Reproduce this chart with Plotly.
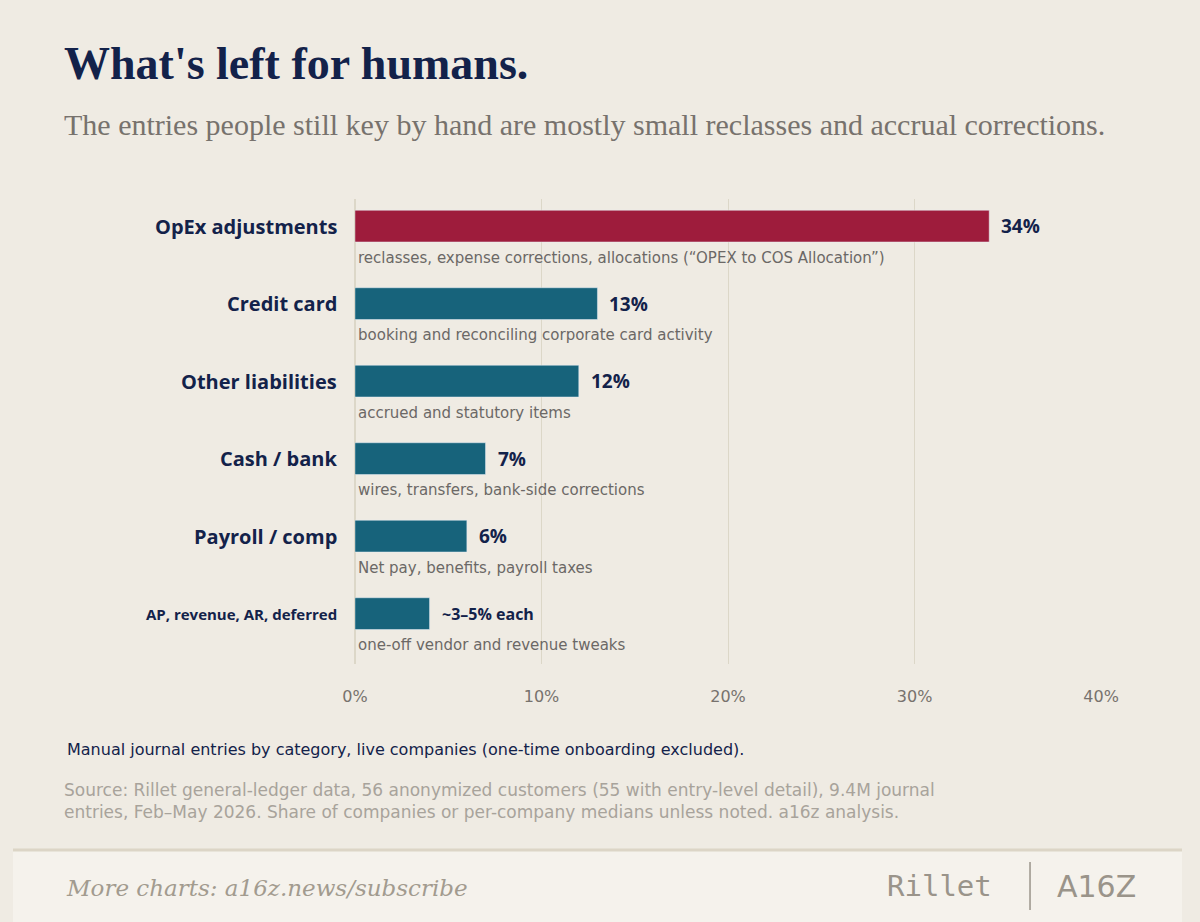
import plotly.graph_objects as go

categories = ["OpEx adjustments", "Credit card", "Other liabilities", "Cash / bank", "Payroll / comp", "AP, revenue, AR, deferred"]
values = [34, 13, 12, 7, 6, 4]
value_labels = ["34%", "13%", "12%", "7%", "6%", "~3–5% each"]
notes = ["reclasses, expense corrections, allocations (“OPEX to COS Allocation”)",
         "booking and reconciling corporate card activity",
         "accrued and statutory items",
         "wires, transfers, bank-side corrections",
         "Net pay, benefits, payroll taxes",
         "one-off vendor and revenue tweaks"]
colors = ["#9e1c3c"] + ["#17637b"] * 5
ticks = [0, 10, 20, 30, 40]

W, H = 1200, 922
BG = "#efebe3"
NAVY = "#13224a"
pos = list(range(len(categories)))

fig = go.Figure(go.Bar(x=values, y=pos, orientation="h", marker_color=colors,
                       width=0.41, hoverinfo="skip"))

ann = []
for i, c in enumerate(categories):
    small = i == len(categories) - 1
    ann.append(dict(x=-0.021, xref="x domain", y=i, yref="y", text=c, showarrow=False,
                    xanchor="right", yanchor="middle",
                    font=dict(family="Open Sans", size=15 if small else 20, color=NAVY, weight="bold")))
    ann.append(dict(x=values[i], xref="x", y=i, yref="y", text=value_labels[i], showarrow=False,
                    xanchor="left", yanchor="middle", xshift=10,
                    font=dict(family="Open Sans", size=16 if small else 19, color=NAVY, weight="bold")))
    ann.append(dict(x=0, xref="x", y=i + 0.41, yref="y", text=notes[i], showarrow=False,
                    xanchor="left", yanchor="middle", xshift=1,
                    font=dict(family="DejaVu Sans", size=15, color="#6b6866")))

def px(x, y, **kw):
    return dict(x=x / W, y=1 - y / H, xref="paper", yref="paper", showarrow=False, **kw)

ann += [
    px(50, 64, text="What's left for humans.", xanchor="left", yanchor="middle",
       font=dict(family="Liberation Serif", size=46, color=NAVY, weight="bold")),
    px(50, 124, text="The entries people still key by hand are mostly small reclasses and accrual corrections.",
       xanchor="left", yanchor="middle", font=dict(family="Liberation Serif", size=30, color="#77726d")),
    px(53, 749, text="Manual journal entries by category, live companies (one-time onboarding excluded).",
       xanchor="left", yanchor="middle", font=dict(family="DejaVu Sans", size=16, color=NAVY)),
    px(50, 801, text="Source: Rillet general-ledger data, 56 anonymized customers (55 with entry-level detail), 9.4M journal<br>entries, Feb–May 2026. Share of companies or per-company medians unless noted. a16z analysis.",
       xanchor="left", yanchor="middle", align="left",
       font=dict(family="DejaVu Sans", size=17, color="#a8a39b")),
    px(52, 888, text="<i>More charts: a16z.news/subscribe</i>", xanchor="left", yanchor="middle",
       font=dict(family="DejaVu Serif", size=23, color="#a29b8f")),
    px(1007, 886, text="Rillet", xanchor="right", yanchor="middle",
       font=dict(family="DejaVu Sans Mono", size=29, color="#9a948a")),
    px(1155, 886, text="A16Z", xanchor="right", yanchor="middle",
       font=dict(family="DejaVu Sans", size=30, color="#9a948a")),
]

shapes = [
    dict(type="rect", xref="paper", yref="paper", x0=0, x1=1, y0=0, y1=1 - 850 / H,
         fillcolor="#f5f2ec", line_width=0, layer="below"),
    dict(type="line", xref="paper", yref="paper", x0=0, x1=1, y0=1 - 850 / H, y1=1 - 850 / H,
         line=dict(color="#dcd5c6", width=3)),
    dict(type="line", xref="paper", yref="paper", x0=1044 / W, x1=1044 / W,
         y0=1 - 862 / H, y1=1 - 910 / H, line=dict(color="#9a948a", width=1.5)),
]

fig.update_layout(
    width=W, height=H, margin=dict(l=0, r=0, t=0, b=0),
    paper_bgcolor=BG, plot_bgcolor=BG, showlegend=False,
    annotations=ann, shapes=shapes,
    xaxis=dict(domain=[351 / W, 1117 / W], range=[0, 40], tickvals=ticks,
               ticktext=[f"{t}%" for t in ticks], showgrid=True, gridcolor="#dcd7c8",
               gridwidth=1, zeroline=True, zerolinecolor="#dcd7c8", ticks="outside",
               ticklen=18, tickcolor="rgba(0,0,0,0)",
               tickfont=dict(family="DejaVu Sans", size=16, color="#77726d"), showline=False),
    yaxis=dict(domain=[1 - 664 / H, 1 - 199 / H], range=[5.65, -0.35], visible=False),
)
fig.write_html("out.html", config={"displayModeBar": False},
               post_script="document.body.style.margin='0';document.body.style.overflow='hidden';")
